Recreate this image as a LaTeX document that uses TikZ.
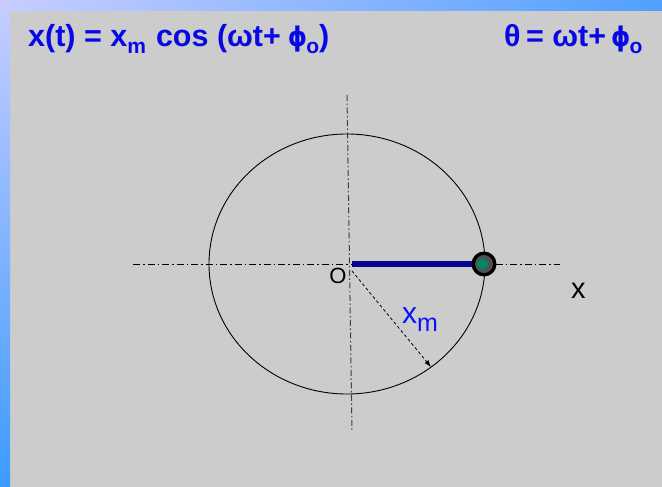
\documentclass[tikz,border=0pt]{standalone}
\usepackage{fontspec}
\setmainfont{Liberation Sans}
\newfontfamily\phifont{DejaVu Sans Condensed}
\usetikzlibrary{arrows.meta}
\definecolor{bggray}{RGB}{204,204,204}
\definecolor{lav}{RGB}{200,205,255}
\definecolor{skyr}{RGB}{80,160,255}
\definecolor{skyb}{RGB}{60,155,255}
\definecolor{ttlblue}{RGB}{8,8,230}
\definecolor{lblblue}{RGB}{10,20,250}
\definecolor{barblue}{RGB}{5,5,145}
\definecolor{balgray}{RGB}{80,80,80}
\definecolor{balgreen}{RGB}{0,135,100}
\newcommand{\subm}[1]{\raisebox{-7pt}{\fontsize{21}{21}\selectfont #1}}
\newcommand{\phis}{{\phifont\fontsize{27}{30}\selectfont ϕ}}
\begin{document}
\begin{tikzpicture}[x=1pt,y=-1pt,
  axisline/.style={black, line width=0.8pt, dash pattern=on 7pt off 3pt on 1.5pt off 3pt},
  vaxis/.style={black!75, line width=1pt, dash pattern=on 6pt off 2.5pt on 1.5pt off 2.5pt},
  ttl/.style={ttlblue, font=\fontsize{30.5}{36}\selectfont\bfseries, inner sep=0pt},
  thin label/.style={black, inner sep=0pt}]
\useasboundingbox (0,0) rectangle (662,487);
\fill[bggray] (0,0) rectangle (662,487);
\shade[left color=lav, right color=skyr] (0,0) rectangle (662,11);
\shade[top color=lav, bottom color=skyb] (0,0) rectangle (10,487);
% titles
\node[ttl, anchor=base west] (t1) at (28,47) {x(t) = x\subm{m}\hspace{10pt}cos (ωt+\hspace{7pt}\phis\hspace{-1pt}\subm{o})};
\node[ttl, anchor=base west] (t2) at (504,47) {θ\hspace{-3pt} = ωt+\hspace{5pt}\phis\hspace{-1pt}\subm{o}};
% geometry
\coordinate (O) at (350,264);
\coordinate (vtop) at (347,95);
\coordinate (vbot) at (352,432);
\coordinate (hl) at (133,264);
\coordinate (hr) at (560,264);
\draw[axisline] (hl) -- (hr);
\draw[vaxis] (vtop) -- (vbot);
\draw[black, line width=0.9pt] (347,264) ellipse [x radius=138, y radius=130];
% bar and ball
\coordinate (barS) at (352,264);
\coordinate (ballc) at (484,264);
\draw[barblue, line width=5.5pt] (barS) -- (476,264);
\fill[black] (ballc) circle (12.5);
\fill[balgray] (ballc) circle (9);
\node[circle, fill=balgreen, minimum size=11pt, inner sep=0pt] (ball) at (482.5,264) {};
% radius arrow
\coordinate (arrS) at (352,271);
\coordinate (arrE) at (431,367);
\draw[black, line width=0.8pt, dash pattern=on 3pt off 2.5pt, -{Latex[length=7pt,width=5pt]}] (arrS) -- (arrE);
% labels
\node[thin label, font=\fontsize{22}{22}\selectfont] (olbl) at (338,275.5) {O};
\node[thin label, font=\fontsize{29}{29}\selectfont, anchor=base west] (xlbl) at (571,298) {x};
\node[lblblue, inner sep=0pt, anchor=base west, font=\fontsize{30}{30}\selectfont] (xm) at (402,323) {x\raisebox{-8pt}{\fontsize{25}{25}\selectfont m}};
\end{tikzpicture}
\end{document}
